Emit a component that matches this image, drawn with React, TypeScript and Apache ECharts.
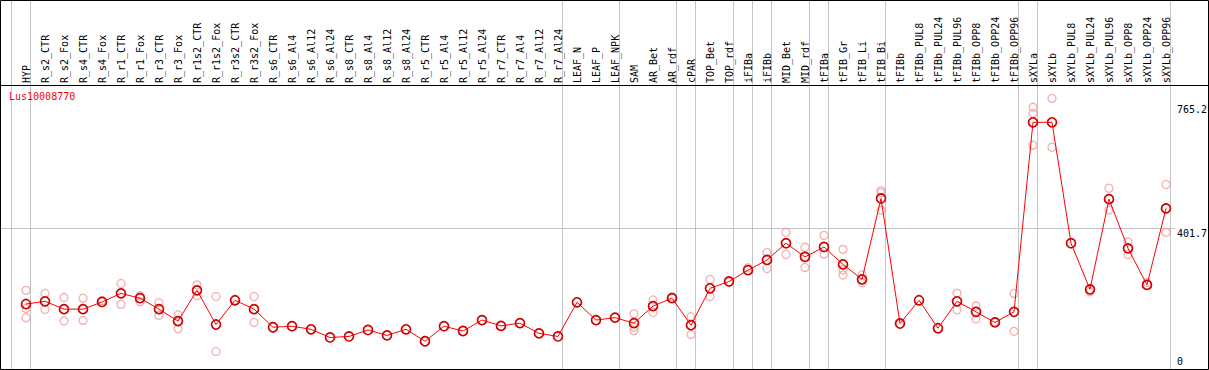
import React, { useEffect, useRef } from "react";
import * as echarts from "echarts";

const categories = [
  "HYP", "R_s2_CTR", "R_s2_Fox", "R_s4_CTR", "R_s4_Fox", "R_r1_CTR", "R_r1_Fox", "R_r3_CTR", "R_r3_Fox",
  "R_r1s2_CTR", "R_r1s2_Fox", "R_r3s2_CTR", "R_r3s2_Fox", "R_s6_CTR", "R_s6_Al4", "R_s6_Al12", "R_s6_Al24",
  "R_s8_CTR", "R_s8_Al4", "R_s8_Al12", "R_s8_Al24", "R_r5_CTR", "R_r5_Al4", "R_r5_Al12", "R_r5_Al24",
  "R_r7_CTR", "R_r7_Al4", "R_r7_Al12", "R_r7_Al24", "LEAF_N", "LEAF_P", "LEAF_NPK", "SAM", "AR_Bet", "AR_rdf",
  "cPAR", "TOP_Bet", "TOP_rdf", "iFIBa", "iFIBb", "MID_Bet", "MID_rdf", "tFIBa", "tFIB_Gr", "tFIB_Li", "tFIB_Bi",
  "tFIBb", "tFIBb_PUL8", "tFIBb_PUL24", "tFIBb_PUL96", "tFIBb_OPP8", "tFIBb_OPP24", "tFIBb_OPP96",
  "sXYLa", "sXYLb", "sXYLb_PUL8", "sXYLb_PUL24", "sXYLb_PUL96", "sXYLb_OPP8", "sXYLb_OPP24", "sXYLb_OPP96",
];

const meanValues = [
  180, 188, 165, 165, 186, 211, 197, 165, 130, 220, 120, 191, 165, 112, 115, 106, 82, 85, 104, 88, 106,
  71, 115, 101, 133, 116, 124, 94, 85, 185, 133, 140, 124, 174, 197, 118, 226, 246, 279, 309, 358, 318,
  347, 296, 252, 489, 123, 191, 109, 188, 157, 126, 157, 712, 712, 358, 223, 487, 343, 236, 460,
];

const replicateA = [
  220, 211, 199, 197, 190, 240, 204, 184, 148, 236, 202, 192, 202, null, null, null, null, null, null, null, null,
  null, null, null, null, null, null, null, null, null, null, null, 151, 192, 201, 143, 252, 244, 286, 331, 390, 346,
  381, 340, 265, 512, 120, null, null, 212, 174, 128, 211, 756, 782, null, 216, 519, 362, 243, 530,
];
const replicateB = [
  167, 164, 130, 132, null, 179, 187, 147, 108, 204, 41, null, 126, null, null, null, null, null, null, null, null,
  null, null, null, null, null, null, null, null, null, null, null, 112, 155, null, 91, 202, null, null, 284, 325, 287,
  326, 280, 243, 506, null, null, null, 163, 136, null, 100, 738, 639, null, null, 455, 325, null, 390,
];
const replicateC = [
  140, null, null, null, null, null, null, null, null, null, null, null, null, null, null, null, null, null, null, null, null,
  null, null, null, null, null, null, null, null, null, null, null, 102, null, null, null, null, null, null, null, null, null,
  null, 265, null, 455, null, null, null, null, null, null, null, 645, null, null, null, null, null, null, null,
];

// group separators are drawn just after these category indices
const groupBreaksAfter = [-1, 0, 28, 31, 34, 35, 37, 38, 39, 41, 42, 45, 52, 53, 60];
const yLabelValues = [765.2, 401.7, 0];
const refLineValue = 401.7;
const geneId = "Lus10008770";

const FONT = "DejaVu Sans Mono";

export default function App() {
  const ref = useRef<HTMLDivElement>(null);

  useEffect(() => {
    const chart = echarts.init(ref.current!, null, { renderer: "svg" });
    const toPts = (arr: (number | null)[]) =>
      arr.map((v, i) => (v == null ? null : [i, v])).filter((p) => p !== null);
    const reps = [...toPts(replicateA), ...toPts(replicateB), ...toPts(replicateC)];

    chart.setOption({
      animation: false,
      grid: { left: 7, right: 5, top: 0, bottom: 1, containLabel: false },
      xAxis: {
        type: "value",
        min: -1,
        max: 62,
        interval: 1,
        position: "top",
        offset: -85,
        axisLine: { show: false },
        axisTick: { show: false },
        splitLine: { show: false },
        axisLabel: {
          rotate: 90,
          margin: 2,
          fontFamily: FONT,
          fontSize: 10,
          color: "#000",
          showMinLabel: true,
          showMaxLabel: true,
          formatter: (v: number) => categories[Math.round(v)] ?? "",
        },
      },
      yAxis: { type: "value", min: -10.25, max: 1070.1, show: false },
      series: [
        {
          type: "line",
          data: [],
          silent: true,
          markLine: {
            silent: true,
            symbol: "none",
            z: 0,
            label: { show: false },
            lineStyle: { color: "#c4c4c4", width: 1, type: "solid" },
            data: groupBreaksAfter.map((b) => ({ xAxis: b + 0.24 })),
          },
        },
        {
          type: "scatter",
          data: reps,
          symbol: "circle",
          symbolSize: 8,
          z: 3,
          itemStyle: { color: "rgba(0,0,0,0)", borderColor: "#f19c9c", borderWidth: 1.3 },
        },
        {
          type: "line",
          data: meanValues.map((v, i) => [i, v]),
          z: 4,
          symbol: "circle",
          symbolSize: 9,
          showAllSymbol: true,
          lineStyle: { color: "#ff0000", width: 1 },
          itemStyle: { color: "rgba(0,0,0,0)", borderColor: "#d00000", borderWidth: 1.7 },
        },
      ],
    });

    const yPix = (v: number) => chart.convertToPixel({ yAxisIndex: 0 }, v) as number;

    chart.setOption({
      graphic: [
        {
          type: "line",
          z: 1,
          shape: { x1: 1, y1: Math.round(yPix(refLineValue)) + 0.5, x2: 1175, y2: Math.round(yPix(refLineValue)) + 0.5 },
          style: { stroke: "#c4c4c4", lineWidth: 1 },
        },
        {
          type: "rect",
          z: 10,
          shape: { x: 0.5, y: 0.5, width: 1208, height: 369 },
          style: { fill: "none", stroke: "#000", lineWidth: 1 },
        },
        {
          type: "line",
          z: 10,
          shape: { x1: 0, y1: 85.5, x2: 1209, y2: 85.5 },
          style: { stroke: "#000", lineWidth: 1 },
        },
        {
          type: "text",
          z: 10,
          x: 9,
          y: 91,
          style: { text: geneId, fill: "#ff0000", font: `10px "${FONT}"`, verticalAlign: "top" },
        },
        ...yLabelValues.map((v) => ({
          type: "text",
          z: 10,
          x: 1177,
          y: v === 0 ? yPix(v) + 1 : yPix(v),
          style: {
            text: String(v),
            fill: "#000",
            font: `10px "${FONT}"`,
            verticalAlign: v === 0 ? "bottom" : "top",
          },
        })),
      ],
    });

    return () => chart.dispose();
  }, []);

  return (
    <div
      ref={ref}
      style={{ position: "fixed", left: 0, top: 0, width: 1209, height: 370, background: "#fff" }}
    />
  );
}
